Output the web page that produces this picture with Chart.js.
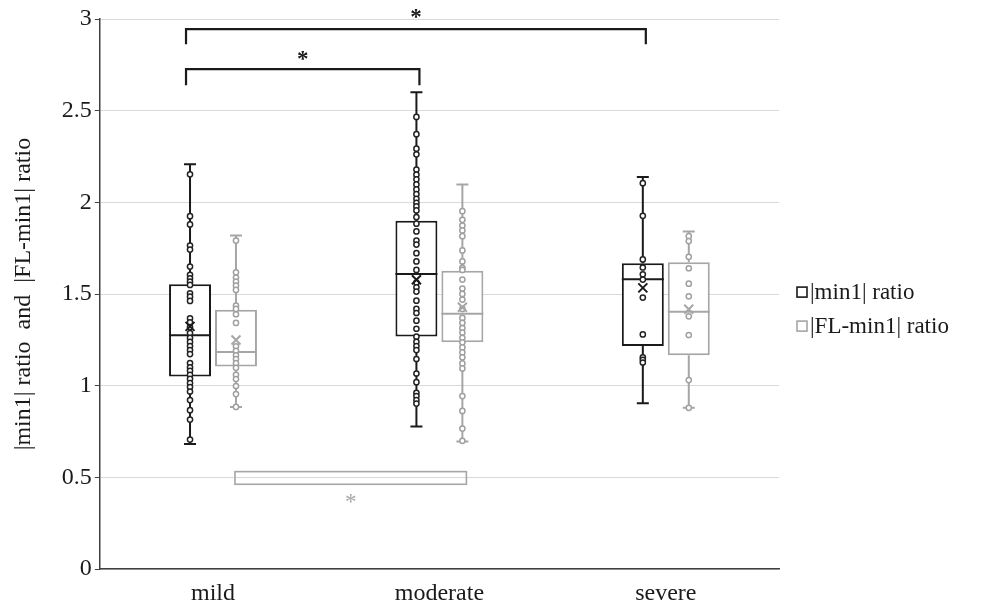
<!DOCTYPE html>
<html>
<head>
<meta charset="utf-8">
<script src="https://cdn.jsdelivr.net/npm/chart.js@4.4.0/dist/chart.umd.min.js"></script>
<style>
  html, body { margin: 0; padding: 0; background: #ffffff; }
  #wrap { width: 986px; height: 607px; position: relative; }
</style>
</head>
<body>
<div id="wrap"><canvas id="c"></canvas></div>
<script>
// ---------- data ----------
const categories = ['mild', 'moderate', 'severe'];
const seriesLabels = ['|min1| ratio', '|FL-min1| ratio'];
const yTickValues = [0, 0.5, 1, 1.5, 2, 2.5, 3];
const yTickLabels = ['0', '0.5', '1', '1.5', '2', '2.5', '3'];
const yTitle = '|min1| ratio  and  |FL-min1| ratio';

// |min1| ratio box statistics (per category)
const min1Low    = [0.683, 0.778, 0.905];
const min1Q1     = [1.051, 1.269, 1.217];
const min1Median = [1.275, 1.610, 1.581];
const min1Q3     = [1.554, 1.900, 1.668];
const min1High   = [2.208, 2.601, 2.138];
const min1Mean   = [1.324, 1.578, 1.534];

// |FL-min1| ratio box statistics (per category)
const flLow    = [0.885, 0.696, 0.880];
const flQ1     = [1.105, 1.237, 1.166];
const flMedian = [1.184, 1.393, 1.404];
const flQ3     = [1.414, 1.627, 1.674];
const flHigh   = [1.820, 2.098, 1.842];
const flMean   = [1.250, 1.428, 1.417];

// individual observations
const min1Mild = [2.153, 1.925, 1.880, 1.765, 1.743, 1.650, 1.605, 1.586, 1.568, 1.550, 1.504, 1.486, 1.463,
  1.368, 1.346, 1.320, 1.288, 1.261, 1.239, 1.217, 1.195, 1.173, 1.124, 1.100, 1.082, 1.060, 1.038, 1.015,
  0.993, 0.969, 0.922, 0.867, 0.816, 0.707];
const min1Moderate = [2.466, 2.372, 2.293, 2.262, 2.179, 2.151, 2.126, 2.098, 2.071, 2.045, 2.020, 1.998,
  1.978, 1.956, 1.920, 1.884, 1.842, 1.792, 1.770, 1.723, 1.678, 1.632, 1.563, 1.537, 1.514, 1.464, 1.419,
  1.397, 1.355, 1.311, 1.268, 1.240, 1.217, 1.195, 1.146, 1.067, 1.020, 0.962, 0.944, 0.922, 0.903];
const min1Severe = [2.105, 1.927, 1.689, 1.645, 1.608, 1.579, 1.481, 1.280, 1.155, 1.142, 1.127];

const flMild = [1.792, 1.619, 1.590, 1.568, 1.546, 1.523, 1.437, 1.419, 1.390, 1.343, 1.215, 1.191, 1.166,
  1.146, 1.124, 1.098, 1.060, 1.037, 0.999, 0.955, 0.885];
const flModerate = [1.952, 1.905, 1.874, 1.847, 1.816, 1.738, 1.678, 1.643, 1.632, 1.579, 1.530, 1.501,
  1.470, 1.419, 1.370, 1.343, 1.315, 1.290, 1.262, 1.237, 1.209, 1.182, 1.155, 1.122, 1.095, 0.944, 0.863,
  0.767, 0.700];
const flSevere = [1.816, 1.789, 1.703, 1.641, 1.557, 1.488, 1.379, 1.277, 1.031, 0.880];

// significance annotations (|min1| ratio)
const sigFrom   = [0, 0];
const sigTo     = [2, 1];
const sigLevel  = [2.945, 2.727];
const sigLeg    = [2.863, 2.639];
const sigStar   = [3.022, 2.794];
// grey comparison (|FL-min1| ratio, mild vs moderate)
const greySigFrom = 0, greySigTo = 1;
const greySigTop = 0.532, greySigBottom = 0.463, greySigStar = 0.377;

// ---------- styling ----------
const BLACK = '#1a1a1a';
const GREY = '#a6a6a6';
const FONT = '"Liberation Serif", "Times New Roman", serif';

const seriesStats = [
  { low: min1Low, q1: min1Q1, med: min1Median, q3: min1Q3, high: min1High, mean: min1Mean,
    pts: [min1Mild, min1Moderate, min1Severe], color: BLACK, ptColor: '#222222' },
  { low: flLow, q1: flQ1, med: flMedian, q3: flQ3, high: flHigh, mean: flMean,
    pts: [flMild, flModerate, flSevere], color: GREY, ptColor: '#a0a0a0' }
];

const boxPlugin = {
  id: 'boxExtras',
  afterDatasetsDraw(chart) {
    const ctx = chart.ctx;
    const y = chart.scales.y;
    seriesStats.forEach((s, di) => {
      const meta = chart.getDatasetMeta(di);
      meta.data.forEach((bar, ci) => {
        const x = bar.x;
        const half = bar.width / 2;
        ctx.save();
        ctx.strokeStyle = s.color;
        ctx.lineWidth = 2;
        const yLow = y.getPixelForValue(s.low[ci]);
        const yQ1 = y.getPixelForValue(s.q1[ci]);
        const yQ3 = y.getPixelForValue(s.q3[ci]);
        const yHigh = y.getPixelForValue(s.high[ci]);
        ctx.beginPath();
        ctx.moveTo(x, yQ3); ctx.lineTo(x, yHigh);
        ctx.moveTo(x - 6, yHigh); ctx.lineTo(x + 6, yHigh);
        ctx.moveTo(x, yQ1); ctx.lineTo(x, yLow);
        ctx.moveTo(x - 6, yLow); ctx.lineTo(x + 6, yLow);
        ctx.stroke();
        const yMed = y.getPixelForValue(s.med[ci]);
        ctx.beginPath();
        ctx.moveTo(x - half, yMed); ctx.lineTo(x + half, yMed);
        ctx.stroke();
        ctx.lineWidth = 1.5;
        ctx.strokeStyle = s.ptColor;
        ctx.fillStyle = '#ffffff';
        s.pts[ci].forEach(v => {
          const py = y.getPixelForValue(v);
          ctx.beginPath();
          ctx.arc(x, py, 2.6, 0, Math.PI * 2);
          ctx.fill();
          ctx.stroke();
        });
        const yMean = y.getPixelForValue(s.mean[ci]);
        ctx.strokeStyle = s.color;
        ctx.lineWidth = 2;
        ctx.beginPath();
        ctx.moveTo(x - 4.5, yMean - 4.5); ctx.lineTo(x + 4.5, yMean + 4.5);
        ctx.moveTo(x + 4.5, yMean - 4.5); ctx.lineTo(x - 4.5, yMean + 4.5);
        ctx.stroke();
        ctx.restore();
      });
    });
  },
  afterDraw(chart) {
    const ctx = chart.ctx;
    const y = chart.scales.y;
    const m0 = chart.getDatasetMeta(0);
    const m1 = chart.getDatasetMeta(1);
    ctx.save();
    ctx.strokeStyle = BLACK;
    ctx.lineWidth = 2.2;
    ctx.fillStyle = BLACK;
    ctx.font = 'bold 23px ' + FONT;
    ctx.textAlign = 'center';
    ctx.textBaseline = 'middle';
    for (let i = 0; i < sigFrom.length; i++) {
      const x1 = m0.data[sigFrom[i]].x - 4;
      const x2 = m0.data[sigTo[i]].x + 3;
      const yl = y.getPixelForValue(sigLevel[i]);
      const yd = y.getPixelForValue(sigLeg[i]);
      ctx.beginPath();
      ctx.moveTo(x1, yd); ctx.lineTo(x1, yl); ctx.lineTo(x2, yl); ctx.lineTo(x2, yd);
      ctx.stroke();
      ctx.fillText('*', (x1 + x2) / 2, y.getPixelForValue(sigStar[i]) + 3);
    }
    const gx1 = m1.data[greySigFrom].x - 1;
    const gx2 = m1.data[greySigTo].x + 4;
    const gyt = y.getPixelForValue(greySigTop);
    const gyb = y.getPixelForValue(greySigBottom);
    ctx.strokeStyle = GREY;
    ctx.lineWidth = 1.6;
    ctx.strokeRect(gx1, gyt, gx2 - gx1, gyb - gyt);
    ctx.fillStyle = GREY;
    ctx.font = '23px ' + FONT;
    ctx.fillText('*', (gx1 + gx2) / 2, y.getPixelForValue(greySigStar) + 3);

    const area = chart.chartArea;
    const lx = area.right + 18;
    const cy = (area.top + area.bottom) / 2;
    const rows = [cy - 2, cy + 32];
    ctx.textAlign = 'left';
    ctx.font = '23px ' + FONT;
    seriesLabels.forEach((lab, i) => {
      const ry = rows[i];
      ctx.strokeStyle = seriesStats[i].color;
      ctx.lineWidth = 1.6;
      ctx.fillStyle = '#ffffff';
      ctx.fillRect(lx, ry - 5, 10, 10);
      ctx.strokeRect(lx, ry - 5, 10, 10);
      ctx.fillStyle = BLACK;
      ctx.fillText(lab, lx + 13, ry + 1);
    });
    ctx.restore();
  }
};

new Chart(document.getElementById('c'), {
  type: 'bar',
  data: {
    labels: categories,
    datasets: [
      {
        label: seriesLabels[0],
        data: categories.map((_, i) => [min1Q1[i], min1Q3[i]]),
        backgroundColor: '#ffffff',
        borderColor: BLACK,
        borderWidth: 2,
        borderSkipped: false,
        categoryPercentage: 0.406,
        barPercentage: 0.913
      },
      {
        label: seriesLabels[1],
        data: categories.map((_, i) => [flQ1[i], flQ3[i]]),
        backgroundColor: '#ffffff',
        borderColor: GREY,
        borderWidth: 2,
        borderSkipped: false,
        categoryPercentage: 0.406,
        barPercentage: 0.913
      }
    ]
  },
  options: {
    responsive: true,
    maintainAspectRatio: false,
    animation: false,
    layout: { padding: { left: 4, right: 207, top: 19, bottom: -11 } },
    plugins: {
      legend: { display: false },
      tooltip: { enabled: false },
      title: { display: false }
    },
    scales: {
      x: {
        grid: { display: false, drawTicks: false },
        border: { display: true, color: '#404040', width: 1.5 },
        ticks: { color: BLACK, font: { family: FONT, size: 24 }, padding: 10 }
      },
      y: {
        min: 0,
        max: 3,
        afterBuildTicks(scale) { scale.ticks = yTickValues.map(v => ({ value: v })); },
        grid: { color: '#d9d9d9', lineWidth: 1, tickColor: '#404040', tickLength: 5 },
        border: { display: true, color: '#404040', width: 1.5 },
        ticks: {
          color: BLACK,
          font: { family: FONT, size: 24 },
          padding: 3,
          callback(value) {
            const i = yTickValues.indexOf(value);
            return i >= 0 ? yTickLabels[i] : '';
          }
        },
        title: {
          display: true,
          text: yTitle,
          color: BLACK,
          font: { family: FONT, size: 24 },
          padding: { top: 5, bottom: 21 }
        }
      }
    }
  },
  plugins: [boxPlugin]
});
</script>
</body>
</html>
